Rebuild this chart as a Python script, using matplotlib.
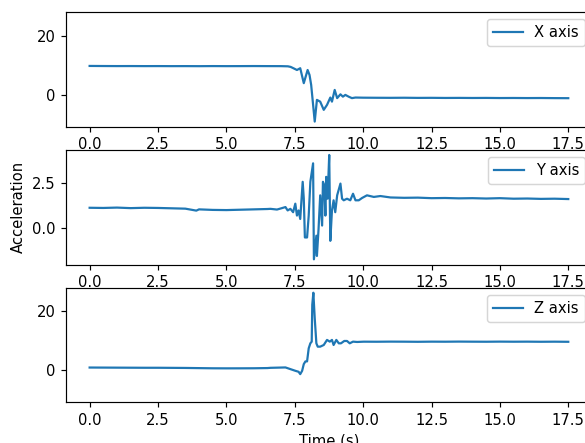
import matplotlib
matplotlib.use("Agg")
import matplotlib.pyplot as plt

# Accelerometer readings (m/s^2) for the three axes over time (s)
t_x = [0.0, 0.5, 1.0, 1.5, 2.0, 2.5, 3.0, 3.5, 4.0, 4.5, 5.0, 5.5, 6.0, 6.5, 7.0,
       7.25, 7.35, 7.45, 7.58, 7.70, 7.83, 7.97, 8.04, 8.10, 8.23,
       8.31, 8.43, 8.56, 8.68, 8.80, 8.86, 8.96, 9.05, 9.17, 9.26, 9.35, 9.47, 9.59, 9.72,
       10.0, 10.5, 11.0, 11.5, 12.0, 12.5, 13.0, 13.5, 14.0, 14.5, 15.0, 15.5, 16.0,
       16.5, 17.0, 17.5]
acc_x = [9.78, 9.75, 9.73, 9.74, 9.72, 9.73, 9.71, 9.72, 9.70, 9.73, 9.71, 9.72, 9.74, 9.72, 9.71,
         9.65, 9.45, 9.0, 8.4, 9.0, 3.9, 8.4, 6.7, 3.3, -9.2,
         -1.8, -2.4, -5.2, -3.5, -1.0, -2.4, 1.6, -1.2, 0.1, -0.7, -0.1, -0.7, -1.2, -1.0,
         -1.05, -1.08, -1.10, -1.07, -1.12, -1.10, -1.14, -1.12, -1.15, -1.13, -1.17, -1.15, -1.18,
         -1.16, -1.20, -1.22]

t_y = [0.0, 0.5, 1.0, 1.5, 2.0, 2.5, 3.0, 3.5, 3.9, 4.0, 4.5, 5.0, 5.5, 6.0, 6.5,
       6.61, 6.85, 7.03, 7.16, 7.24, 7.34, 7.44, 7.52, 7.58, 7.64, 7.70, 7.79, 7.83, 7.87,
       7.95, 8.01, 8.07, 8.17, 8.20, 8.29, 8.31, 8.37, 8.43, 8.50, 8.53, 8.58, 8.62, 8.65,
       8.70, 8.76, 8.80, 8.86, 8.92, 8.98, 9.05, 9.17, 9.23, 9.29, 9.41, 9.53, 9.63, 9.72,
       9.84, 9.96, 10.14, 10.39, 10.63, 11.0, 11.5, 12.0, 12.5, 13.0, 13.5, 14.0, 14.5,
       15.0, 15.5, 16.0, 16.5, 17.0, 17.5]
acc_y = [1.12, 1.11, 1.13, 1.10, 1.12, 1.11, 1.09, 1.07, 0.96, 1.03, 1.00, 0.99, 1.01, 1.03, 1.05,
         1.06, 1.02, 1.10, 1.16, 0.97, 1.06, 0.87, 1.35, 0.68, 0.97, 0.49, 2.58, 1.63, -0.55,
         -0.55, 0.68, 2.58, 3.62, -1.78, -0.45, -1.59, -0.07, 1.82, 0.12, 2.58, 2.39, 0.68, 2.86,
         1.63, 4.09, -0.74, 0.97, 1.54, 0.87, 1.82, 2.48, 1.63, 1.54, 1.63, 1.54, 1.91, 1.54,
         1.54, 1.67, 1.82, 1.73, 1.78, 1.70, 1.68, 1.69, 1.66, 1.67, 1.65, 1.66, 1.64,
         1.66, 1.63, 1.64, 1.62, 1.63, 1.61]

t_z = [0.0, 0.5, 1.0, 1.5, 2.0, 2.5, 3.0, 3.5, 4.0, 4.5, 5.0, 5.5, 6.0, 6.5,
       6.61, 7.16, 7.34, 7.52, 7.64, 7.70, 7.77, 7.83, 7.89, 7.95, 8.01, 8.07, 8.12, 8.14,
       8.18, 8.23, 8.29, 8.34, 8.43, 8.56, 8.68, 8.78, 8.86, 8.92, 9.02, 9.11, 9.19, 9.31,
       9.41, 9.51, 9.63, 9.78, 10.02, 10.5, 11.0, 11.5, 12.0, 12.5, 13.0, 13.5, 14.0, 14.5,
       15.0, 15.5, 16.0, 16.5, 17.0, 17.5]
acc_z = [0.88, 0.86, 0.84, 0.82, 0.80, 0.80, 0.77, 0.74, 0.68, 0.62, 0.60, 0.61, 0.63, 0.70,
         0.78, 0.91, 0.34, -0.23, -0.57, -1.37, -0.23, 2.06, 2.97, 2.97, 7.43, 9.14, 9.71, 22.3,
         26.4, 17.7, 9.14, 8.0, 8.0, 8.57, 10.3, 9.71, 10.3, 8.57, 10.3, 9.14, 9.14, 9.94,
         9.94, 9.14, 9.71, 9.6, 9.7, 9.68, 9.72, 9.70, 9.66, 9.71, 9.69, 9.73, 9.70, 9.68,
         9.72, 9.69, 9.71, 9.67, 9.70, 9.66]

series = [(t_x, acc_x, "X axis"), (t_y, acc_y, "Y axis"), (t_z, acc_z, "Z axis")]

DPI = 106
fig = plt.figure(figsize=(585 / DPI, 443 / DPI), dpi=DPI)
axes = fig.subplots(3, 1)
axes[2].sharey(axes[0])
fig.subplots_adjust(left=65.7 / 585, right=592.2 / 585,
                    top=1 - 12.0 / 443, bottom=1 - 402.3 / 443, hspace=0.2)

for ax, (t, acc, name) in zip(axes, series):
    ax.plot(t, acc, color="#1f77b4", label=name)
    ax.legend(loc="upper right")

axes[1].set_ylabel("Acceleration")
axes[2].set_xlabel("Time (s)")

fig.savefig("out.png", dpi=DPI)
